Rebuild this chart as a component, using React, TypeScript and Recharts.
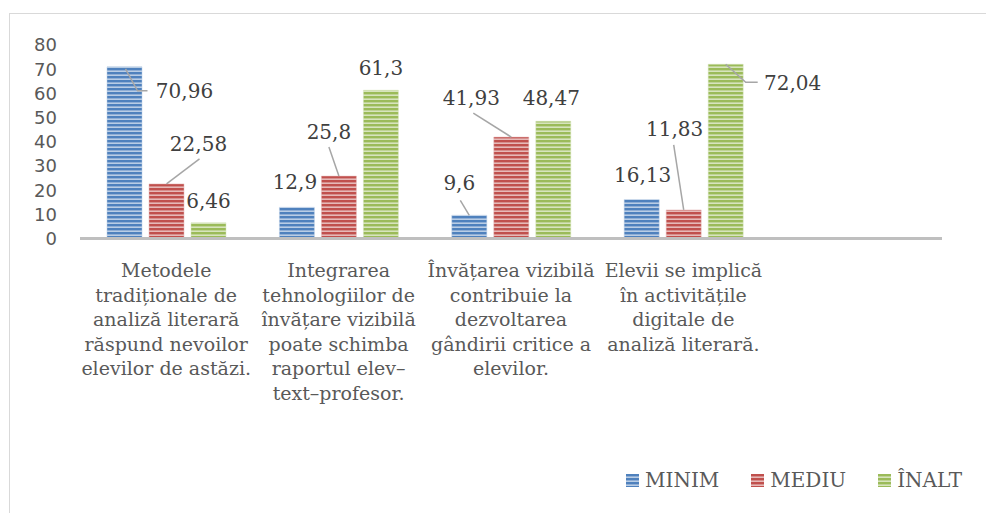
import React from 'react';
import { BarChart, Bar, XAxis, YAxis, LabelList, Legend } from 'recharts';

// ===== data =====
const categories = [
  'Metodele tradiționale de analiză literară răspund nevoilor elevilor de astăzi.',
  'Integrarea tehnologiilor de învățare vizibilă poate schimba raportul elev–text–profesor.',
  'Învățarea vizibilă contribuie la dezvoltarea gândirii critice a elevilor.',
  'Elevii se implică în activitățile digitale de analiză literară.',
  '',
];

// the way the category labels wrap in the reference
const categoryLines = [
  ['Metodele', 'tradiționale de', 'analiză literară', 'răspund nevoilor', 'elevilor de astăzi.'],
  ['Integrarea', 'tehnologiilor de', 'învățare vizibilă', 'poate schimba', 'raportul elev–', 'text–profesor.'],
  ['Învățarea vizibilă', 'contribuie la', 'dezvoltarea', 'gândirii critice a', 'elevilor.'],
  ['Elevii se implică', 'în activitățile', 'digitale de', 'analiză literară.'],
  [],
];

const minim = [70.96, 12.9, 9.6, 16.13, null];
const mediu = [22.58, 25.8, 41.93, 11.83, null];
const inalt = [6.46, 61.3, 48.47, 72.04, null];

const yTicks = [0, 10, 20, 30, 40, 50, 60, 70, 80];

const data = categories.map((name, i) => ({
  name,
  minim: minim[i],
  mediu: mediu[i],
  inalt: inalt[i],
}));

// ===== label placement (relative to the top centre of each bar) =====
type LabelSpot = { dx: number; dy: number; leader?: [number, number][] };

const minimLabels: LabelSpot[] = [
  { dx: 60, dy: 24, leader: [[1, 2], [13, 24], [23, 24]] },
  { dx: -2, dy: -25 },
  { dx: -10, dy: -32, leader: [[0, 0], [-9, -15]] },
  { dx: 1, dy: -24 },
];
const mediuLabels: LabelSpot[] = [
  { dx: 32, dy: -40, leader: [[0, 0], [33, -25]] },
  { dx: -10, dy: -44, leader: [[0, 0], [-10, -29]] },
  { dx: -40, dy: -39, leader: [[0, 0], [-38, -24]] },
  { dx: -9, dy: -81, leader: [[0, 0], [-10, -65]] },
];
const inaltLabels: LabelSpot[] = [
  { dx: 0, dy: -22 },
  { dx: 0, dy: -22 },
  { dx: -2, dy: -23 },
  { dx: 67, dy: 19, leader: [[0, 0], [20, 18], [32, 18]] },
];

const serif = '"DejaVu Serif", "Liberation Serif", serif';

const series = [
  { key: 'minim', name: 'MINIM', dark: '#4F81BD', light: '#B9CDE5', labels: minimLabels },
  { key: 'mediu', name: 'MEDIU', dark: '#C0504D', light: '#E6B9B8', labels: mediuLabels },
  { key: 'inalt', name: 'ÎNALT', dark: '#9BBB59', light: '#D7E4BD', labels: inaltLabels },
];

function makeLabel(spots: LabelSpot[]) {
  return (props: any) => {
    const { x, y, width, value, index } = props;
    if (value == null) return null;
    const spot = spots[index];
    if (!spot) return null;
    const cx = Number(x) + Number(width) / 2;
    const ty = Number(y);
    return (
      <g>
        {spot.leader && (
          <polyline
            points={spot.leader.map(([px, py]) => `${cx + px},${ty + py}`).join(' ')}
            fill="none"
            stroke="#a6a6a6"
            strokeWidth={1.5}
          />
        )}
        <text
          x={cx + spot.dx}
          y={ty + spot.dy}
          textAnchor="middle"
          dominantBaseline="central"
          style={{ fontFamily: serif }}
          fontSize={20}
          fill="#404040"
        >
          {String(value).replace('.', ',')}
        </text>
      </g>
    );
  };
}

function CategoryTick(props: any) {
  const { x, y, payload } = props;
  const lines = categoryLines[payload.index] || [];
  return (
    <g>
      {lines.map((line, i) => (
        <text
          key={i}
          x={x}
          y={y + 23.5 + i * 24.5}
          textAnchor="middle"
          dominantBaseline="central"
          style={{ fontFamily: serif }}
          fontSize={19}
          fill="#595959"
        >
          {line}
        </text>
      ))}
    </g>
  );
}

function LegendContent() {
  return (
    <div style={{ display: 'flex', alignItems: 'center', gap: 32 }}>
      {series.map((s) => (
        <div key={s.key} style={{ display: 'flex', alignItems: 'center' }}>
          <svg width={13} height={13} style={{ marginRight: 6 }}>
            <rect width={13} height={13} fill={`url(#pat-${s.key})`} />
          </svg>
          <span style={{ fontFamily: serif, fontSize: 20, color: '#595959', lineHeight: '26px' }}>{s.name}</span>
        </div>
      ))}
    </div>
  );
}

export default function App() {
  return (
    <div style={{ position: 'absolute', left: 0, top: 0, width: 986, height: 513, overflow: 'hidden', background: '#fff' }}>
      <div
        style={{
          position: 'absolute',
          left: 9,
          top: 13,
          width: 977,
          height: 500,
          borderLeft: '1px solid #d9d9d9',
          borderTop: '1px solid #d9d9d9',
        }}
      />
      <div style={{ position: 'absolute', left: 0, top: 0 }}>
        <BarChart
          width={986}
          height={513}
          data={data}
          margin={{ top: 45, right: 44, left: 20, bottom: 244.5 }}
          barSize={35}
          barGap={7}
        >
          <defs>
            {series.map((s) => (
              <pattern key={s.key} id={`pat-${s.key}`} width={4} height={4} patternUnits="userSpaceOnUse">
                <rect width={4} height={4} fill={s.light} />
                <rect width={4} height={2.4} fill={s.dark} />
              </pattern>
            ))}
          </defs>
          <XAxis
            dataKey="name"
            interval={0}
            height={30}
            tickLine={false}
            axisLine={{ stroke: '#bfbfbf', strokeWidth: 3 }}
            tick={<CategoryTick />}
          />
          <YAxis
            domain={[0, 80]}
            ticks={yTicks}
            interval={0}
            width={60}
            axisLine={false}
            tickLine={false}
            tickMargin={17}
            tick={{ fontFamily: '"DejaVu Sans", sans-serif', fontSize: 18, fill: '#595959' }}
          />
          {series.map((s) => (
            <Bar
              key={s.key}
              dataKey={s.key}
              name={s.name}
              fill={`url(#pat-${s.key})`}
              stroke={s.light}
              strokeWidth={0.5}
              isAnimationActive={false}
            >
              <LabelList dataKey={s.key} content={makeLabel(s.labels)} />
            </Bar>
          ))}
          <Legend
            verticalAlign="middle"
            content={<LegendContent />}
            wrapperStyle={{ position: 'absolute', left: 626, top: 467, width: 'auto' }}
          />
        </BarChart>
      </div>
    </div>
  );
}
